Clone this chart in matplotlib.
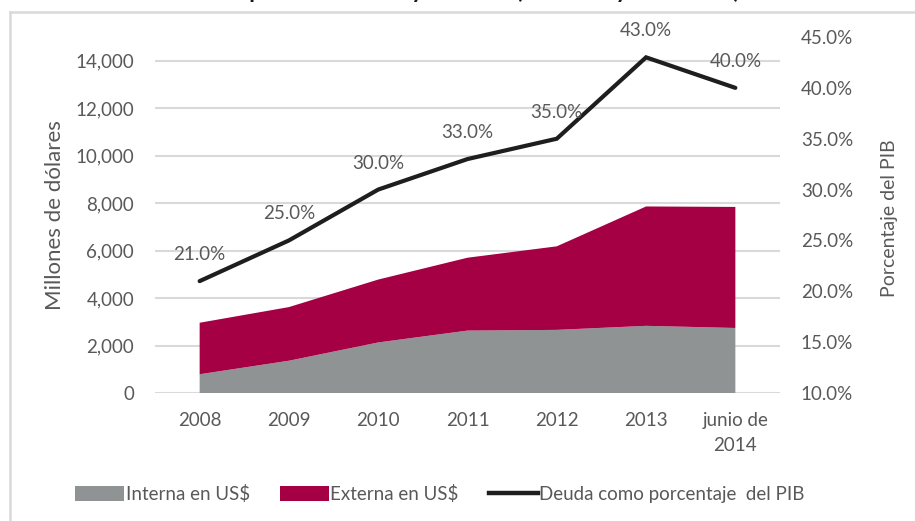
import matplotlib
matplotlib.use("Agg")
import matplotlib.pyplot as plt
from matplotlib.lines import Line2D
from matplotlib.patches import Patch
import numpy as np

categories = ["2008", "2009", "2010", "2011", "2012", "2013", "junio de\n2014"]
interna = [790, 1360, 2130, 2630, 2660, 2830, 2740]
total_deuda = [2960, 3620, 4780, 5700, 6180, 7860, 7840]
externa = [t - i for t, i in zip(total_deuda, interna)]
pct_pib = [21.0, 25.0, 30.0, 33.0, 35.0, 43.0, 40.0]
left_ticks = [0, 2000, 4000, 6000, 8000, 10000, 12000, 14000]
right_ticks = [10, 15, 20, 25, 30, 35, 40, 45]

plt.rcParams['font.family'] = ['Lato', 'DejaVu Sans']
TXT = '#595959'
GRAY = '#8f9393'
RED = '#a50044'
LINE = '#1e1e1e'
GRID = '#d9d9d9'
FS = 13.5

W, H = 915, 521
fig = plt.figure(figsize=(W / 100, H / 100), dpi=100)
ax = fig.add_axes([155 / W, 1 - 393 / H, 625 / W, (393 - 37) / H])

x = np.arange(len(categories))
ax.stackplot(x, interna, externa, colors=[GRAY, RED], linewidth=0)
ax.set_xlim(-0.5, len(categories) - 0.5)
ax.set_ylim(0, 15000)
ax.set_yticks(left_ticks)
ax.set_yticklabels([f"{v:,}" for v in left_ticks])
ax.set_xticks(x)
ax.set_xticklabels(categories, linespacing=1.55)
ax.yaxis.grid(True, color=GRID, lw=1.5)
ax.set_axisbelow(True)
for s in ax.spines.values():
    s.set_visible(False)
ax.tick_params(axis='both', length=0, colors=TXT, labelsize=FS)
ax.tick_params(axis='y', pad=15)
ax.tick_params(axis='x', pad=14)
ax.set_ylabel("Millones de dólares", color=TXT, fontsize=16, va='center')
ax.yaxis.set_label_coords((55 - 155) / 625, 0.5)

ax2 = ax.twinx()
ax2.plot(x, pct_pib, color=LINE, lw=3, solid_capstyle='round', solid_joinstyle='miter')
ax2.set_ylim(10, 45)
ax2.set_yticks(right_ticks)
ax2.set_yticklabels([f"{v:.1f}%" for v in right_ticks])
for s in ax2.spines.values():
    s.set_visible(False)
ax2.tick_params(axis='y', length=0, colors=TXT, labelsize=FS, pad=15)
ax2.set_ylabel("Porcentaje del PIB", color=TXT, fontsize=14, va='center')
ax2.yaxis.set_label_coords((890 - 155) / 625, 0.49)
ax.set_zorder(1)
ax2.set_zorder(2)
ax.patch.set_visible(False)
for xi, v in zip(x, pct_pib):
    ax2.annotate(f"{v:.1f}%", (xi, v), xytext=(0, 13), textcoords='offset points',
                 ha='center', va='bottom', fontsize=FS, color=TXT)

handles = [Patch(facecolor=GRAY, label="Interna en US$"),
           Patch(facecolor=RED, label="Externa en US$"),
           Line2D([0], [0], color=LINE, lw=3.2, label="Deuda como porcentaje  del PIB")]
fig.legend(handles=handles, loc='center', bbox_to_anchor=(440 / W, 1 - 494 / H), ncol=3,
           frameon=False, fontsize=FS, labelcolor=TXT, handlelength=2.6, handleheight=0.9,
           handletextpad=0.1, columnspacing=1.6)

# frame of the chart area (top and left edges visible)
fig.add_artist(Line2D([9.5 / W, 9.5 / W], [0, 1 - 12 / H], color=GRID, lw=1.8))
fig.add_artist(Line2D([9.5 / W, 1], [1 - 12 / H, 1 - 12 / H], color=GRID, lw=1.8))

# title, mostly cut off at the top edge
fig.text(0.5, 1 + 1.5 / H, "Deuda pública interna y externa (millones y % del PIB)",
         ha='center', va='baseline', fontsize=17, fontweight='bold', color='#1a1a1a')

fig.savefig("out.png", dpi=100)
